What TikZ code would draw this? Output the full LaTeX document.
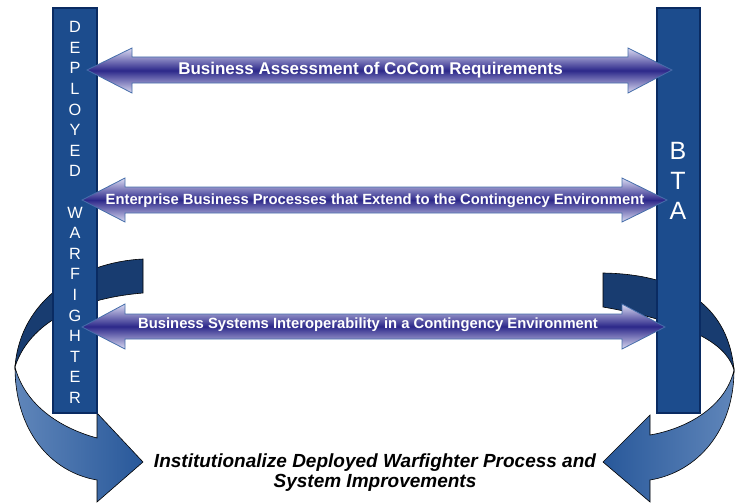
\documentclass[tikz,border=0pt]{standalone}
\usepackage{fontspec}
\setmainfont{Liberation Sans}
\definecolor{barfill}{RGB}{28,76,141}
\definecolor{bardark}{RGB}{10,43,98}
\definecolor{arrlight}{RGB}{218,218,242}
\definecolor{arrdark}{RGB}{44,40,138}
\definecolor{arredge}{RGB}{70,110,170}
\definecolor{curvedark}{RGB}{24,60,112}
\definecolor{curvelight}{RGB}{96,134,186}
\definecolor{curvehead}{RGB}{40,88,154}
\tikzset{
  dbl/.style={draw=arredge, line width=0.8pt, top color=arrlight, bottom color=arrlight, middle color=arrdark},
  bar/.style={draw=bardark, line width=1.4pt, fill=barfill, inner sep=0pt, outer sep=0pt, anchor=north west},
  lbl/.style={text=white, font=\bfseries\fontsize{14.8}{16}\selectfont, inner sep=0pt},
  biglbl/.style={text=white, font=\bfseries\fontsize{17}{19}\selectfont, inner sep=0pt},
  vlet/.style={text=white, font=\fontsize{16.3}{18}\selectfont, inner sep=0pt},
  blet/.style={text=white, font=\fontsize{25}{27}\selectfont, inner sep=0pt},
  curveup/.style={draw=black, line width=0.6pt, fill=curvedark},
  curvelow/.style={draw=black, line width=0.6pt, left color=curvelight, right color=curvehead},
  curvelowr/.style={draw=black, line width=0.6pt, right color=curvelight, left color=curvehead},
  bottomtxt/.style={font=\bfseries\itshape\fontsize{19}{20}\selectfont, align=center, inner sep=0pt}
}
\begin{document}
\begin{tikzpicture}[x=1pt,y=-1pt]
\useasboundingbox (0,0) rectangle (736,503);
% left curved arrow
\draw[curveup] (143,259) .. controls (80,262) and (20,300) .. (15,367)
  .. controls (25,335) and (60,300) .. (143,293) -- cycle;
\draw[curvelow] (15,367) .. controls (15,430) and (50,472) .. (97,480)
  -- (97,502) -- (143,462) -- (97,413) -- (97,438)
  .. controls (60,428) and (25,405) .. (15,367) -- cycle;
% right curved arrow
\draw[curveup] (603,273) .. controls (672,274) and (728,300) .. (734,370)
  .. controls (728,350) and (705,325) .. (603,307) -- cycle;
\draw[curvelowr] (734,370) .. controls (734,430) and (698,472) .. (650,480)
  -- (650,502) -- (603,462) -- (650,415) -- (650,435)
  .. controls (690,428) and (726,405) .. (734,370) -- cycle;
% bars
\node[bar, minimum width=44pt, minimum height=405pt] (dw) at (53,8) {};
\node[bar, minimum width=43pt, minimum height=405pt] (bta) at (657,8) {};
\foreach \l [count=\i] in {D,E,P,L,O,Y,E,D,{},W,A,R,F,I,G,H,T,E,R}
  \node[vlet] (v\i) at (75,{27+20.6*(\i-1)}) {\l};
\node[blet] (b1) at (678,151) {B};
\node[blet] (b2) at (678,181) {T};
\node[blet] (b3) at (678,211) {A};
% double arrows
\draw[dbl] (87,70) -- (132,48) -- (132,57) -- (628,57) -- (628,48) -- (672,70)
  -- (628,93) -- (628,83) -- (132,83) -- (132,93) -- cycle;
\draw[dbl] (82,200) -- (125,178) -- (125,187) -- (622,187) -- (622,178) -- (667,200)
  -- (622,222) -- (622,213) -- (125,213) -- (125,222) -- cycle;
\draw[dbl] (82,327) -- (125,304) -- (125,314) -- (622,314) -- (622,304) -- (665,327)
  -- (622,349) -- (622,339) -- (125,339) -- (125,349) -- cycle;
\node[biglbl] (t1) at (370.5,70) {Business Assessment of CoCom Requirements};
\node[lbl] (t2) at (375,201) {Enterprise Business Processes that Extend to the Contingency Environment};
\node[lbl] (t3) at (368,325) {Business Systems Interoperability in a Contingency Environment};
\node[bottomtxt] (bt) at (375,473) {Institutionalize Deployed Warfighter Process and\\System Improvements};
\end{tikzpicture}
\end{document}
